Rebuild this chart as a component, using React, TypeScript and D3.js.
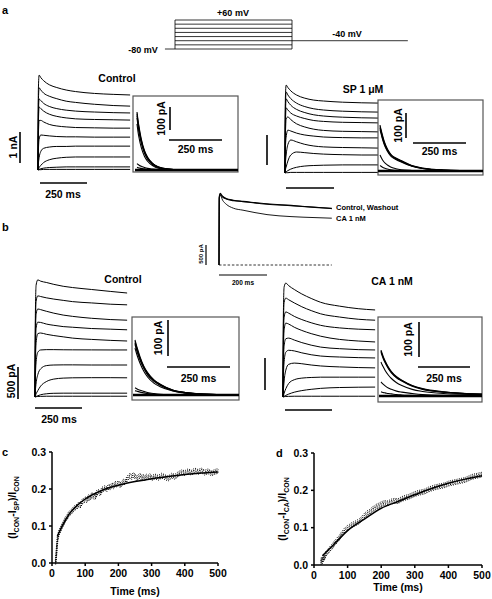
import React from 'react';
import * as d3 from 'd3';

const FONT = "'Liberation Sans', Arial, Helvetica, sans-serif";

// ---------- Protocol (panel a, top) ----------
const PROTO_LEVELS = [-80, -60, -40, -20, 0, 20, 40, 60];
const PROTO_HOLD = -80;
const PROTO_TAIL = -40;
const PROTO_PRE = -43;
const PROTO_STEP_END = 500;
const PROTO_TAIL_END = 995;

// ---------- Whole-cell current families (time in ms) ----------
const TRACE_T = [0, 2, 6, 15, 30, 60, 100, 150, 200, 300, 400, 490];

// panel a, Control (nA)
const A_CON = [
  [0, 2.6, 3.06, 2.98, 2.88, 2.75, 2.66, 2.58, 2.53, 2.47, 2.44, 2.42],
  [0, 2.2, 2.65, 2.58, 2.48, 2.38, 2.3, 2.22, 2.18, 2.12, 2.08, 2.06],
  [0, 1.8, 2.29, 2.24, 2.15, 2.05, 1.98, 1.93, 1.9, 1.87, 1.85, 1.84],
  [0, 1.5, 2.03, 1.98, 1.9, 1.8, 1.73, 1.68, 1.65, 1.63, 1.62, 1.61],
  [0, 1.1, 1.6, 1.6, 1.55, 1.47, 1.42, 1.39, 1.37, 1.36, 1.35, 1.35],
  [0, 0.6, 1.0, 1.13, 1.12, 1.1, 1.08, 1.07, 1.07, 1.06, 1.06, 1.06],
  [0, 0.2, 0.4, 0.6, 0.7, 0.74, 0.76, 0.76, 0.77, 0.77, 0.77, 0.77],
  [0, 0.03, 0.08, 0.15, 0.24, 0.33, 0.38, 0.41, 0.42, 0.42, 0.42, 0.42],
  [0, 0.01, 0.02, 0.04, 0.06, 0.08, 0.09, 0.1, 0.1, 0.1, 0.1, 0.1],
  [0, 0, 0.01, 0.01, 0.02, 0.02, 0.02, 0.02, 0.02, 0.02, 0.02, 0.02],
];

// panel a, SP 1 uM (nA)
const A_SP = [
  [0, 2.5, 2.93, 2.85, 2.74, 2.6, 2.5, 2.43, 2.4, 2.36, 2.34, 2.33],
  [0, 2.2, 2.7, 2.6, 2.48, 2.33, 2.22, 2.14, 2.1, 2.06, 2.04, 2.03],
  [0, 1.9, 2.47, 2.38, 2.26, 2.12, 2.02, 1.94, 1.9, 1.86, 1.84, 1.83],
  [0, 1.6, 2.17, 2.1, 2.0, 1.9, 1.82, 1.75, 1.72, 1.69, 1.68, 1.67],
  [0, 1.2, 1.8, 1.87, 1.78, 1.64, 1.54, 1.46, 1.42, 1.39, 1.38, 1.37],
  [0, 0.8, 1.2, 1.43, 1.4, 1.33, 1.27, 1.23, 1.2, 1.18, 1.17, 1.17],
  [0, 0.3, 0.6, 0.95, 1.1, 1.04, 0.96, 0.9, 0.87, 0.85, 0.84, 0.83],
  [0, 0.1, 0.2, 0.4, 0.6, 0.7, 0.68, 0.65, 0.63, 0.61, 0.6, 0.6],
  [0, 0.02, 0.04, 0.08, 0.13, 0.19, 0.23, 0.25, 0.26, 0.27, 0.27, 0.27],
  [0, 0, 0.01, 0.01, 0.02, 0.02, 0.02, 0.02, 0.02, 0.02, 0.02, 0.02],
];

// panel b, Control (pA)
const B_CON = [
  [0, 1300, 1750, 1830, 1810, 1790, 1760, 1730, 1710, 1680, 1650, 1625],
  [0, 1100, 1500, 1580, 1570, 1550, 1530, 1510, 1490, 1470, 1450, 1440],
  [0, 900, 1300, 1375, 1365, 1340, 1310, 1280, 1260, 1230, 1210, 1200],
  [0, 700, 1080, 1170, 1165, 1140, 1120, 1100, 1090, 1070, 1060, 1050],
  [0, 500, 850, 990, 1000, 980, 960, 940, 920, 900, 885, 875],
  [0, 300, 550, 700, 735, 740, 740, 738, 737, 736, 735, 735],
  [0, 100, 220, 350, 440, 490, 500, 502, 502, 500, 500, 500],
  [0, 20, 50, 100, 170, 240, 280, 295, 300, 302, 302, 300],
  [0, 5, 10, 20, 35, 50, 58, 60, 60, 60, 60, 60],
  [0, 0, 5, 8, 10, 12, 12, 12, 12, 12, 12, 12],
];

// panel b, CA 1 nM (pA)
const B_CA = [
  [0, 1300, 1720, 1780, 1740, 1680, 1610, 1540, 1480, 1420, 1380, 1360],
  [0, 1100, 1480, 1545, 1520, 1470, 1410, 1350, 1300, 1250, 1215, 1200],
  [0, 900, 1250, 1330, 1310, 1260, 1210, 1160, 1120, 1080, 1060, 1050],
  [0, 700, 1050, 1155, 1140, 1090, 1040, 990, 950, 900, 875, 860],
  [0, 500, 800, 910, 920, 890, 850, 810, 780, 755, 740, 735],
  [0, 300, 550, 700, 730, 720, 690, 660, 640, 625, 615, 610],
  [0, 100, 250, 420, 510, 530, 520, 500, 485, 470, 460, 455],
  [0, 20, 60, 130, 210, 270, 295, 305, 310, 310, 310, 310],
  [0, 5, 12, 25, 45, 75, 100, 120, 135, 148, 153, 155],
  [0, 0, 5, 8, 10, 12, 12, 12, 12, 12, 12, 12],
];

// ---------- Tail currents in the insets (pA) ----------
const INSET_T = [0, 5, 10, 20, 35, 50, 75, 100, 150, 200, 300, 500];

const A_CON_TAIL = [
  [252, 215, 185, 135, 85, 55, 28, 14, 4, 1, 0, 0],
  [245, 208, 178, 130, 82, 53, 27, 13, 4, 1, 0, 0],
  [236, 200, 170, 124, 78, 50, 25, 12, 3, 1, 0, 0],
  [226, 190, 162, 118, 74, 47, 23, 11, 3, 1, 0, 0],
  [200, 165, 138, 98, 60, 38, 18, 8, 2, 0, 0, 0],
  [28, 24, 21, 16, 11, 7, 4, 2, 0, 0, 0, 0],
  [12, 10, 9, 7, 5, 3, 2, 1, 0, 0, 0, 0],
];

const A_SP_TAIL = [
  [184, 165, 148, 118, 88, 68, 52, 42, 22, 12, 4, 0],
  [178, 160, 143, 114, 85, 66, 50, 40, 21, 11, 4, 0],
  [172, 155, 138, 110, 82, 63, 48, 38, 20, 10, 3, 0],
  [166, 150, 133, 106, 79, 60, 46, 36, 19, 10, 3, 0],
  [64, 55, 47, 35, 24, 16, 9, 5, 2, 1, 0, 0],
  [22, 19, 16, 12, 8, 5, 3, 2, 1, 0, 0, 0],
];

const B_CON_TAIL = [
  [153, 140, 128, 106, 80, 62, 42, 30, 14, 7, 2, 0],
  [149, 136, 124, 103, 78, 60, 41, 29, 13, 7, 2, 0],
  [145, 132, 120, 100, 76, 58, 40, 28, 13, 6, 2, 0],
  [141, 128, 117, 97, 74, 56, 38, 27, 12, 6, 1, 0],
  [130, 118, 107, 88, 66, 50, 33, 23, 11, 5, 1, 0],
  [20, 18, 16, 13, 10, 7, 4, 2, 1, 0, 0, 0],
  [12, 11, 10, 8, 6, 4, 2, 1, 0, 0, 0, 0],
];

const B_CA_TAIL = [
  [131, 122, 114, 100, 83, 70, 55, 45, 30, 21, 12, 5],
  [128, 119, 111, 97, 81, 68, 53, 44, 29, 20, 11, 5],
  [125, 116, 108, 95, 79, 66, 52, 43, 28, 19, 11, 4],
  [97, 90, 84, 73, 60, 50, 38, 30, 19, 13, 7, 3],
  [40, 37, 34, 29, 23, 19, 14, 11, 7, 4, 2, 1],
  [12, 11, 10, 9, 7, 6, 4, 3, 2, 1, 0, 0],
];

// ---------- Middle comparison inset (pA) ----------
const MID_T = [0, 1, 5, 15, 30, 60, 100, 150, 200, 300, 400, 470];
const MID_CONTROL = [0, 1700, 1790, 1720, 1660, 1620, 1590, 1560, 1530, 1490, 1445, 1420];
const MID_WASHOUT = [0, 1680, 1760, 1700, 1650, 1610, 1585, 1550, 1520, 1480, 1440, 1410];
const MID_CA = [0, 1650, 1750, 1620, 1520, 1420, 1370, 1310, 1260, 1210, 1185, 1170];
const MID_LABELS = ['Control, Washout', 'CA 1 nM'];

// ---------- Panels c & d ----------
const X_TICKS = [0, 100, 200, 300, 400, 500];
const Y_TICKS = [0, 0.1, 0.2, 0.3];

const C_DOTS: [number, number][] = [
  [10, 0.0], [12, 0.02], [14, 0.045], [16, 0.065], [20, 0.08], [25, 0.09], [30, 0.1], [35, 0.108],
  [40, 0.118], [45, 0.123], [50, 0.132], [55, 0.136], [60, 0.14], [65, 0.146], [70, 0.15], [75, 0.152],
  [80, 0.158], [85, 0.155], [90, 0.165], [95, 0.168], [100, 0.172], [105, 0.17], [110, 0.178], [115, 0.176],
  [120, 0.184], [125, 0.18], [130, 0.178], [135, 0.19], [140, 0.192], [145, 0.188], [150, 0.198], [155, 0.2],
  [160, 0.203], [165, 0.199], [170, 0.206], [175, 0.204], [180, 0.21], [185, 0.207], [190, 0.214], [195, 0.212],
  [200, 0.216], [205, 0.21], [210, 0.214], [215, 0.22], [220, 0.218], [225, 0.226], [230, 0.232], [235, 0.236],
  [240, 0.232], [245, 0.238], [250, 0.234], [255, 0.228], [260, 0.232], [265, 0.236], [270, 0.23], [275, 0.233],
  [280, 0.228], [285, 0.234], [290, 0.231], [295, 0.235], [300, 0.229], [310, 0.234], [320, 0.23], [330, 0.236],
  [340, 0.232], [350, 0.228], [360, 0.236], [370, 0.233], [380, 0.24], [390, 0.245], [400, 0.243], [410, 0.248],
  [420, 0.244], [430, 0.25], [440, 0.246], [450, 0.25], [460, 0.244], [470, 0.248], [480, 0.242], [490, 0.246],
  [500, 0.249],
];
const C_FIT: [number, number][] = [
  [16, 0.072], [25, 0.09], [40, 0.115], [50, 0.13], [75, 0.155], [100, 0.173], [150, 0.196],
  [200, 0.21], [250, 0.22], [300, 0.228], [350, 0.234], [400, 0.239], [450, 0.243], [500, 0.246],
];

const D_DOTS: [number, number][] = [
  [20, 0.005], [22, 0.015], [25, 0.01], [28, 0.022], [30, 0.018], [35, 0.03], [40, 0.035], [45, 0.04],
  [50, 0.046], [55, 0.05], [60, 0.058], [65, 0.062], [70, 0.068], [75, 0.072], [80, 0.08], [85, 0.085],
  [90, 0.092], [95, 0.095], [100, 0.1], [105, 0.102], [110, 0.106], [115, 0.108], [120, 0.11], [125, 0.112],
  [130, 0.115], [135, 0.117], [140, 0.122], [145, 0.127], [150, 0.132], [155, 0.136], [160, 0.14], [165, 0.142],
  [170, 0.146], [175, 0.15], [180, 0.152], [185, 0.156], [190, 0.158], [195, 0.16], [200, 0.163], [210, 0.166],
  [220, 0.165], [230, 0.17], [240, 0.172], [250, 0.171], [260, 0.176], [270, 0.18], [280, 0.182], [290, 0.186],
  [300, 0.19], [310, 0.193], [320, 0.195], [330, 0.197], [340, 0.202], [350, 0.205], [360, 0.208], [370, 0.21],
  [380, 0.212], [390, 0.214], [400, 0.218], [410, 0.22], [420, 0.222], [430, 0.224], [440, 0.226], [450, 0.228],
  [460, 0.232], [470, 0.236], [480, 0.238], [490, 0.24], [500, 0.242],
];
const D_FIT: [number, number][] = [
  [25, 0.025], [50, 0.047], [75, 0.07], [100, 0.092], [150, 0.123], [200, 0.152], [250, 0.17],
  [300, 0.188], [350, 0.205], [400, 0.219], [450, 0.23], [500, 0.239],
];

type Sc = d3.ScaleLinear<number, number>;

function Traces({ t, series, x, y, w = 1.0 }: { t: number[]; series: number[][]; x: Sc; y: Sc; w?: number }) {
  const line = d3
    .line<[number, number]>()
    .x((d) => x(d[0]))
    .y((d) => y(d[1]))
    .curve(d3.curveMonotoneX);
  return (
    <g>
      {series.map((s, i) => (
        <path key={i} d={line(t.map((tt, j) => [tt, s[j]] as [number, number])) || ''} fill="none" stroke="#000" strokeWidth={w} />
      ))}
    </g>
  );
}

function VText({ x, y, size, children }: { x: number; y: number; size: number; children: React.ReactNode }) {
  return (
    <text transform={`translate(${x},${y}) rotate(-90)`} textAnchor="middle" fontSize={size}>
      {children}
    </text>
  );
}

type InsetProps = {
  id: string;
  box: [number, number, number, number];
  x: Sc;
  y: Sc;
  series: number[][];
  vbar: [number, number];
  vlabelX: number;
  hbar: [number, number];
  hlabelY: number;
};

function Inset({ id, box, x, y, series, vbar, vlabelX, hbar, hlabelY }: InsetProps) {
  const [bx0, by0, bx1, by1] = box;
  const vLen = y(0) - y(100);
  const hLen = x(250) - x(0);
  return (
    <g>
      <defs>
        <clipPath id={id}>
          <rect x={bx0} y={by0} width={bx1 - bx0} height={by1 - by0} />
        </clipPath>
      </defs>
      <rect x={bx0} y={by0} width={bx1 - bx0} height={by1 - by0} fill="#fff" stroke="#555" strokeWidth={1.2} />
      <g clipPath={`url(#${id})`}>
        <line x1={x(0) - 2} x2={bx1} y1={y(0)} y2={y(0)} stroke="#000" strokeWidth={2.4} />
        <Traces t={INSET_T} series={series} x={x} y={y} w={1.1} />
      </g>
      <line x1={vbar[0]} x2={vbar[0]} y1={vbar[1]} y2={vbar[1] + vLen} stroke="#000" strokeWidth={1.6} />
      <VText x={vlabelX} y={vbar[1] + vLen / 2} size={10.5}>
        <tspan dy="0">100 pA</tspan>
      </VText>
      <line x1={hbar[0]} x2={hbar[0] + hLen} y1={hbar[1]} y2={hbar[1]} stroke="#000" strokeWidth={1.6} />
      <text x={hbar[0] + hLen / 2} y={hlabelY} textAnchor="middle" fontSize={10.5}>
        250 ms
      </text>
    </g>
  );
}

function DotBand({ dots, x, y }: { dots: [number, number][]; x: Sc; y: Sc }) {
  const line = d3
    .line<[number, number]>()
    .x((d) => x(d[0]))
    .y((d) => y(d[1]));
  const d = line(dots) || '';
  const offs = [-2.4, -1.2, 0, 1.2, 2.4];
  return (
    <g>
      {offs.map((o, i) => (
        <path
          key={i}
          d={d}
          transform={`translate(${(i % 2) * 0.6},${o})`}
          fill="none"
          stroke="#000"
          strokeWidth={1.0}
          strokeDasharray="1 1.3"
          strokeDashoffset={i * 0.9}
        />
      ))}
    </g>
  );
}

function RatioPanel({
  x,
  y,
  dots,
  fit,
  letter,
  letterX,
  sub,
  labelX,
  timeY,
}: {
  x: Sc;
  y: Sc;
  dots: [number, number][];
  fit: [number, number][];
  letter: string;
  letterX: number;
  sub: string;
  labelX: number;
  timeY: number;
}) {
  const fitLine = d3
    .line<[number, number]>()
    .x((d) => x(d[0]))
    .y((d) => y(d[1]))
    .curve(d3.curveMonotoneX);
  const x0 = x(0);
  const y0 = y(0);
  const yTop = y(0.3);
  return (
    <g>
      <text x={letterX} y={yTop + 4} fontSize={11}>
        {letter}
      </text>
      <line x1={x0} x2={x0} y1={yTop} y2={y0} stroke="#000" strokeWidth={1.5} />
      <line x1={x0} x2={x(500)} y1={y0} y2={y0} stroke="#000" strokeWidth={1.5} />
      {Y_TICKS.map((v) => (
        <g key={v}>
          <line x1={x0 - 3} x2={x0} y1={y(v)} y2={y(v)} stroke="#000" strokeWidth={1.5} />
          <text x={x0 - 6} y={y(v) + 3.6} textAnchor="end" fontSize={10.5}>
            {d3.format('.1f')(v)}
          </text>
        </g>
      ))}
      {X_TICKS.map((v) => (
        <g key={v}>
          <line x1={x(v)} x2={x(v)} y1={y0} y2={y0 + 3} stroke="#000" strokeWidth={1.5} />
          <text x={x(v)} y={y0 + 13.5} textAnchor="middle" fontSize={10.5}>
            {v}
          </text>
        </g>
      ))}
      <text x={(x0 + x(500)) / 2} y={timeY} textAnchor="middle" fontSize={10.5}>
        Time (ms)
      </text>
      <text transform={`translate(${labelX},${(yTop + y0) / 2}) rotate(-90)`} textAnchor="middle" fontSize={10.5}>
        <tspan>(I</tspan>
        <tspan fontSize={7} dy={3}>CON</tspan>
        <tspan dy={-3}>-I</tspan>
        <tspan fontSize={7} dy={3}>{sub}</tspan>
        <tspan dy={-3}>)/I</tspan>
        <tspan fontSize={7} dy={3}>CON</tspan>
      </text>
      <DotBand dots={dots} x={x} y={y} />
      <path d={fitLine(fit) || ''} fill="none" stroke="#000" strokeWidth={1.5} />
    </g>
  );
}

export default function App() {
  // protocol scales
  const pv = d3.scaleLinear().domain([-80, 60]).range([49, 20]);
  const pt = d3.scaleLinear().domain([0, 500]).range([175, 292]);

  // panel a
  const aConX = d3.scaleLinear().domain([0, 250]).range([38, 85]);
  const aConY = d3.scaleLinear().domain([0, 1]).range([170, 139]);
  const aSpX = d3.scaleLinear().domain([0, 250]).range([285, 333]);
  const aSpY = d3.scaleLinear().domain([0, 1]).range([173, 143]);
  const aConTX = d3.scaleLinear().domain([0, 250]).range([137, 190]);
  const aConTY = d3.scaleLinear().domain([0, 100]).range([170, 147]);
  const aSpTX = d3.scaleLinear().domain([0, 250]).range([380, 433]);
  const aSpTY = d3.scaleLinear().domain([0, 100]).range([171, 146]);

  // middle
  const mX = d3.scaleLinear().domain([0, 200]).range([219, 267]);
  const mY = d3.scaleLinear().domain([0, 500]).range([265, 245]);

  // panel b
  const bConX = d3.scaleLinear().domain([0, 250]).range([35, 82]);
  const bConY = d3.scaleLinear().domain([0, 500]).range([397, 365]);
  const bCaX = d3.scaleLinear().domain([0, 250]).range([283, 330]);
  const bCaY = d3.scaleLinear().domain([0, 500]).range([397, 365]);
  const bConTX = d3.scaleLinear().domain([0, 250]).range([135, 198]);
  const bConTY = d3.scaleLinear().domain([0, 100]).range([395, 359]);
  const bCaTX = d3.scaleLinear().domain([0, 250]).range([381, 433]);
  const bCaTY = d3.scaleLinear().domain([0, 100]).range([396, 361]);

  // panels c, d
  const cX = d3.scaleLinear().domain([0, 500]).range([52, 218]);
  const cY = d3.scaleLinear().domain([0, 0.3]).range([563, 452]);
  const dX = d3.scaleLinear().domain([0, 500]).range([314, 482]);
  const dY = d3.scaleLinear().domain([0, 0.3]).range([565, 453]);

  const midLine = d3
    .line<[number, number]>()
    .x((d) => mX(d[0]))
    .y((d) => mY(d[1]))
    .curve(d3.curveMonotoneX);

  return (
    <svg
      width={492}
      height={599}
      style={{ position: 'absolute', left: 0, top: 0, background: '#fff' }}
      fontFamily={FONT}
      fontWeight="bold"
    >
      <rect width={492} height={599} fill="#fff" />

      {/* ---------- a: protocol ---------- */}
      <text x={2} y={14} fontSize={11}>a</text>
      <g stroke="#000" strokeWidth={0.8}>
        <line x1={pt(PROTO_PRE)} x2={pt(0)} y1={pv(PROTO_HOLD)} y2={pv(PROTO_HOLD)} />
        {PROTO_LEVELS.map((v) => (
          <line key={v} x1={pt(0)} x2={pt(PROTO_STEP_END)} y1={pv(v)} y2={pv(v)} />
        ))}
        <line x1={pt(0)} x2={pt(0)} y1={pv(-80)} y2={pv(60)} />
        <line x1={pt(PROTO_STEP_END)} x2={pt(PROTO_STEP_END)} y1={pv(-80)} y2={pv(60)} />
        <line x1={pt(PROTO_STEP_END)} x2={pt(PROTO_TAIL_END)} y1={pv(PROTO_TAIL)} y2={pv(PROTO_TAIL)} />
      </g>
      <text x={233} y={16} textAnchor="middle" fontSize={9}>+60 mV</text>
      <text x={347} y={37} textAnchor="middle" fontSize={9}>-40 mV</text>
      <text x={143} y={53} textAnchor="middle" fontSize={9}>-80 mV</text>

      {/* ---------- a: Control ---------- */}
      <Traces t={TRACE_T} series={A_CON} x={aConX} y={aConY} />
      <text x={117} y={82} textAnchor="middle" fontSize={10.5}>Control</text>
      <line x1={20} x2={20} y1={132} y2={132 + aConY(0) - aConY(1)} stroke="#000" strokeWidth={1.6} />
      <VText x={13.5} y={147} size={10.5}><tspan dy="0.35em">1 nA</tspan></VText>
      <line x1={40} x2={40 + aConX(250) - aConX(0)} y1={183} y2={183} stroke="#000" strokeWidth={1.6} />
      <text x={63} y={198} textAnchor="middle" fontSize={10.5}>250 ms</text>
      <Inset
        id="clipACon"
        box={[133, 96, 238, 172]}
        x={aConTX}
        y={aConTY}
        series={A_CON_TAIL}
        vbar={[170, 107]}
        vlabelX={164.5}
        hbar={[169, 140]}
        hlabelY={153}
      />

      {/* ---------- a: SP ---------- */}
      <Traces t={TRACE_T} series={A_SP} x={aSpX} y={aSpY} />
      <text x={363} y={93} textAnchor="middle" fontSize={10.5}>SP 1 μM</text>
      <line x1={267} x2={267} y1={135} y2={135 + aSpY(0) - aSpY(1)} stroke="#000" strokeWidth={1.6} />
      <line x1={286} x2={286 + aSpX(250) - aSpX(0)} y1={188} y2={188} stroke="#000" strokeWidth={1.6} />
      <Inset
        id="clipASp"
        box={[378, 100, 483, 175]}
        x={aSpTX}
        y={aSpTY}
        series={A_SP_TAIL}
        vbar={[406, 113]}
        vlabelX={402}
        hbar={[413, 143]}
        hlabelY={155}
      />

      {/* ---------- middle comparison ---------- */}
      <line x1={mX(0)} x2={mX(470)} y1={mY(0)} y2={mY(0)} stroke="#000" strokeWidth={0.8} strokeDasharray="2.5 1.8" />
      <path d={midLine(MID_T.map((t, i) => [t, MID_WASHOUT[i]] as [number, number])) || ''} fill="none" stroke="#000" strokeWidth={1.1} />
      <path d={midLine(MID_T.map((t, i) => [t, MID_CONTROL[i]] as [number, number])) || ''} fill="none" stroke="#000" strokeWidth={1.1} />
      <path d={midLine(MID_T.map((t, i) => [t, MID_CA[i]] as [number, number])) || ''} fill="none" stroke="#000" strokeWidth={0.9} />
      <text x={336} y={210} fontSize={7.5}>{MID_LABELS[0]}</text>
      <text x={336} y={221} fontSize={7.5}>{MID_LABELS[1]}</text>
      <line x1={206} x2={206} y1={245} y2={245 + mY(0) - mY(500)} stroke="#000" strokeWidth={1.2} />
      <VText x={200.5} y={254} size={6}><tspan dy="0.35em">500 pA</tspan></VText>
      <line x1={mX(0)} x2={mX(200)} y1={275} y2={275} stroke="#000" strokeWidth={1.2} />
      <text x={243} y={285} textAnchor="middle" fontSize={6.5}>200 ms</text>

      {/* ---------- b ---------- */}
      <text x={2} y={231} fontSize={11}>b</text>
      <Traces t={TRACE_T} series={B_CON} x={bConX} y={bConY} />
      <text x={123} y={283} textAnchor="middle" fontSize={10.5}>Control</text>
      <line x1={18} x2={18} y1={367} y2={367 + bConY(0) - bConY(500)} stroke="#000" strokeWidth={1.6} />
      <VText x={11.5} y={381} size={10.5}><tspan dy="0.35em">500 pA</tspan></VText>
      <line x1={35} x2={35 + bConX(250) - bConX(0)} y1={408} y2={408} stroke="#000" strokeWidth={1.6} />
      <text x={59} y={423} textAnchor="middle" fontSize={10.5}>250 ms</text>
      <Inset
        id="clipBCon"
        box={[132, 317, 239, 400]}
        x={bConTX}
        y={bConTY}
        series={B_CON_TAIL}
        vbar={[168, 320]}
        vlabelX={161.5}
        hbar={[167, 367]}
        hlabelY={382}
      />

      <Traces t={TRACE_T} series={B_CA} x={bCaX} y={bCaY} />
      <text x={392} y={285} textAnchor="middle" fontSize={10.5}>CA 1 nM</text>
      <line x1={265} x2={265} y1={358} y2={358 + bCaY(0) - bCaY(500)} stroke="#000" strokeWidth={1.6} />
      <line x1={285} x2={285 + bCaX(250) - bCaX(0)} y1={410} y2={410} stroke="#000" strokeWidth={1.6} />
      <Inset
        id="clipBCa"
        box={[378, 317, 482, 402]}
        x={bCaTX}
        y={bCaTY}
        series={B_CA_TAIL}
        vbar={[419, 322]}
        vlabelX={411.5}
        hbar={[418, 367]}
        hlabelY={382}
      />

      {/* ---------- c & d ---------- */}
      <RatioPanel x={cX} y={cY} dots={C_DOTS} fit={C_FIT} letter="c" letterX={2} sub="SP" labelX={16} timeY={595} />
      <RatioPanel x={dX} y={dY} dots={D_DOTS} fit={D_FIT} letter="d" letterX={276} sub="CA" labelX={286} timeY={591} />
    </svg>
  );
}
